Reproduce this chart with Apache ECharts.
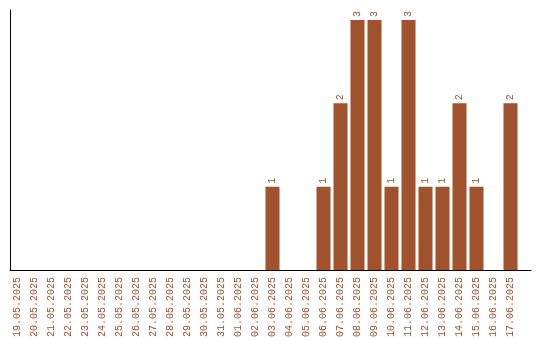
<!DOCTYPE html>
<html><head><meta charset="utf-8">
<script src="https://cdn.jsdelivr.net/npm/echarts@6/dist/echarts.min.js"></script>
<style>html,body{margin:0;padding:0;background:#fff}#c{width:540px;height:340px}</style>
</head><body><div id="c"></div>
<script>
const categories = ["19.05.2025","20.05.2025","21.05.2025","22.05.2025","23.05.2025","24.05.2025","25.05.2025","26.05.2025","27.05.2025","28.05.2025","29.05.2025","30.05.2025","31.05.2025","01.06.2025","02.06.2025","03.06.2025","04.06.2025","05.06.2025","06.06.2025","07.06.2025","08.06.2025","09.06.2025","10.06.2025","11.06.2025","12.06.2025","13.06.2025","14.06.2025","15.06.2025","16.06.2025","17.06.2025"];
const counts = [0,0,0,0,0,0,0,0,0,0,0,0,0,0,0,1,0,0,1,2,3,3,1,3,1,1,2,1,0,2];

const barColor = '#a0522d';
const font = 'Liberation Mono';
const chart = echarts.init(document.getElementById('c'), null, {renderer: 'canvas'});
chart.setOption({
  animation: false,
  backgroundColor: '#fff',
  grid: [
    {left: 9, width: 510, top: 10, height: 260},
    {left: 10, right: 9, top: 10, height: 260}
  ],
  xAxis: [
    {type: 'category', gridIndex: 0, data: categories,
     axisLine: {show: false}, axisTick: {show: false},
     axisLabel: {interval: 0, rotate: 90, color: barColor, fontFamily: font, fontSize: 10, margin: 7}},
    {type: 'value', gridIndex: 1, min: 0, max: 1,
     axisLine: {show: true, onZero: false, lineStyle: {color: '#000', width: 1}},
     axisTick: {show: false}, axisLabel: {show: false}, splitLine: {show: false}}
  ],
  yAxis: [
    {type: 'value', gridIndex: 0, min: 0, max: 3.12,
     axisLine: {show: false}, axisTick: {show: false}, axisLabel: {show: false}, splitLine: {show: false}},
    {type: 'value', gridIndex: 1, min: 0, max: 1,
     axisLine: {show: true, onZero: false, lineStyle: {color: '#000', width: 1}},
     axisTick: {show: false}, axisLabel: {show: false}, splitLine: {show: false}}
  ],
  series: [{
    type: 'bar', xAxisIndex: 0, yAxisIndex: 0, data: counts, barWidth: 14,
    itemStyle: {color: barColor},
    label: {show: true, position: 'top', rotate: 90, align: 'left', verticalAlign: 'middle',
            distance: 3, color: barColor, fontFamily: font, fontSize: 10,
            formatter: p => p.value ? String(p.value) : ''}
  }]
});
</script></body></html>
